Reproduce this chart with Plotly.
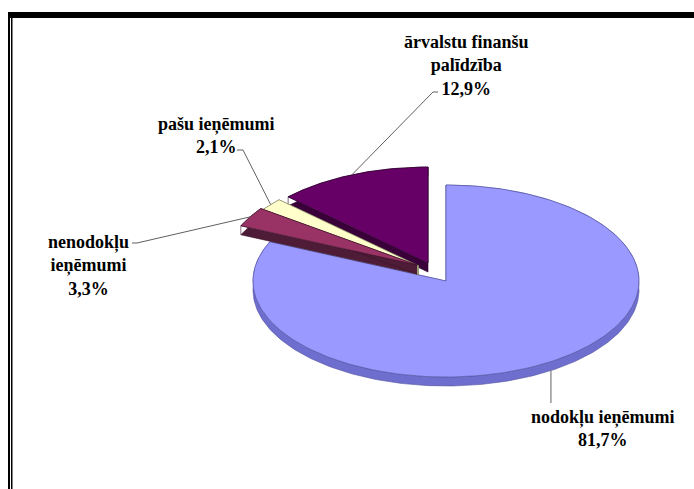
import numpy as np
import plotly.graph_objects as go

# ---------------- data ----------------
categories = ["nodokļu ieņēmumi", "nenodokļu ieņēmumi", "pašu ieņēmumi", "ārvalstu finanšu palīdzība"]
label_display = ["nodokļu ieņēmumi", "nenodokļu<br>ieņēmumi", "pašu ieņēmumi", "ārvalstu finanšu<br>palīdzība"]
values = [81.7, 3.3, 2.1, 12.9]

# ---------------- style ----------------
top_colors = ["#9999FF", "#993366", "#FFFFCC", "#660066"]
side_colors = ["#6E6ECF", "#4E1C36", "#9A9A78", "#3A003A"]
edge_colors = ["#50509E", "#3E142A", "#7A7A5A", "#2A002A"]

W, H = 694, 489
CX, CY = 446, 281          # base pie centre (pixels)
A, B = 193, 96             # ellipse semi-axes
DEPTH = 9
explode = [(0, 0), (-29, -16), (-27, -15), (-18, -18)]
draw_order = [0, 3, 2, 1]

# label block centres & leader elbows
label_pos = [(603, 428), (88, 265), (216, 135), (466, 65)]
elbow = [None, [(137, 243), (132, 243)], [(243, 150), (237, 150)], [(433, 92), (438, 92)]]

FONT = "'Liberation Serif', 'Times New Roman', 'DejaVu Serif', serif"

total = sum(values)
cum = np.concatenate([[0], np.cumsum(values)])
th0 = 90 - cum[:-1] / total * 360
th1 = 90 - cum[1:] / total * 360


def pt(cx, cy, th_deg):
    t = np.deg2rad(th_deg)
    return cx + A * np.cos(t), cy - B * np.sin(t)


fig = go.Figure()

for i in draw_order:
    cx, cy = CX + explode[i][0], CY + explode[i][1]
    ts = np.linspace(th0[i], th1[i], 300)
    ax_, ay_ = pt(cx, cy, ts)
    # side faces: arc band + two radial quads
    xs, ys = [], []
    xs += list(ax_) + list(ax_[::-1]) + [None]
    ys += list(ay_) + list(ay_[::-1] + DEPTH) + [None]
    for (ex, ey) in [(ax_[0], ay_[0]), (ax_[-1], ay_[-1])]:
        xs += [cx, ex, ex, cx, None]
        ys += [cy, ey, ey + DEPTH, cy + DEPTH, None]
    fig.add_trace(go.Scatter(x=xs, y=ys, mode="lines", fill="toself",
                             fillcolor=side_colors[i],
                             line=dict(color=edge_colors[i], width=0.6),
                             hoverinfo="skip", showlegend=False))
    # top surface
    px = [cx] + list(ax_) + [cx]
    py = [cy] + list(ay_) + [cy]
    fig.add_trace(go.Scatter(x=px, y=py, mode="lines", fill="toself",
                             fillcolor=top_colors[i],
                             line=dict(color=edge_colors[i], width=0.6),
                             hoverinfo="skip", showlegend=False,
                             name=categories[i]))

# labels and leader lines
for i in range(len(values)):
    cx, cy = CX + explode[i][0], CY + explode[i][1]
    mid = (th0[i] + th1[i]) / 2
    sx, sy = pt(cx, cy, mid)
    pct = f"{values[i]:.1f}".replace(".", ",") + "%"
    lx, ly = label_pos[i]
    if elbow[i] is None:
        sy_ = sy + DEPTH
        fig.add_shape(type="line", x0=sx, y0=sy_, x1=sx, y1=ly - 25,
                      line=dict(color="#606060", width=1), xref="x", yref="y")
    else:
        pts = [(sx, sy)] + elbow[i]
        for (x0, y0), (x1, y1) in zip(pts[:-1], pts[1:]):
            fig.add_shape(type="line", x0=x0, y0=y0, x1=x1, y1=y1,
                          line=dict(color="#606060", width=1), xref="x", yref="y")
    fig.add_annotation(x=lx, y=ly, xref="x", yref="y", showarrow=False,
                       text=f"<b>{label_display[i]}<br>{pct}</b>",
                       font=dict(family=FONT, size=18, color="#000000"),
                       xanchor="center", yanchor="middle", align="center")

# frame (top bar + double left line)
fig.add_shape(type="rect", x0=8, x1=W, y0=12, y1=18, fillcolor="black", line_width=0,
              xref="x", yref="y")
fig.add_shape(type="rect", x0=8, x1=10, y0=12, y1=H, fillcolor="black", line_width=0,
              xref="x", yref="y")
fig.add_shape(type="rect", x0=11, x1=12.5, y0=18, y1=H, fillcolor="black", line_width=0,
              xref="x", yref="y")

fig.update_layout(
    width=W, height=H, autosize=False,
    margin=dict(l=0, r=0, t=0, b=0),
    paper_bgcolor="white", plot_bgcolor="white",
    showlegend=False,
    font=dict(family=FONT),
    xaxis=dict(range=[0, W], visible=False, fixedrange=True),
    yaxis=dict(range=[H, 0], visible=False, fixedrange=True),
)

fig.write_html("out.html", config={"displayModeBar": False},
               post_script="document.body.style.margin='0';document.body.style.overflow='hidden';")
